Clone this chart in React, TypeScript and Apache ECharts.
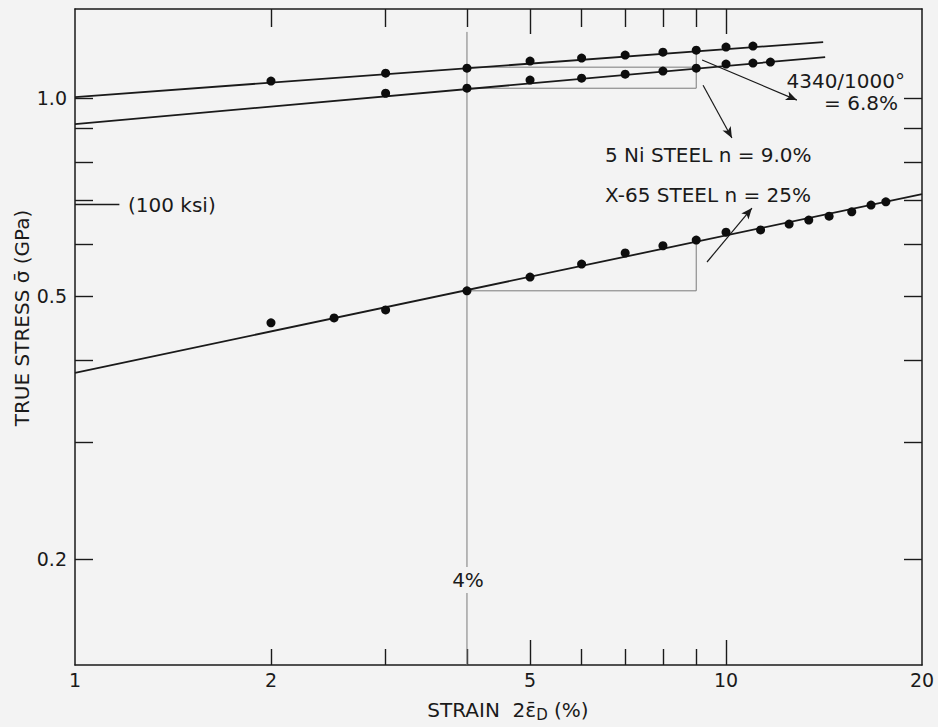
import React, { useEffect, useRef } from 'react';
import * as echarts from 'echarts';

// ---- Axis ticks / labels ----
const xTicksMinor = [2, 3, 4, 6, 7, 8, 9];
const xTicksMajor = [5, 10];
const xLabels = [1, 2, 5, 10, 20];
const yTicks = [0.2, 0.3, 0.4, 0.5, 0.6, 0.7, 0.8, 0.9, 1.0];
const yLabels = [0.2, 0.5, 1.0];

// ---- Data: 4340/1000° steel ----
const steel4340Points = [
  [2, 1.061], [3, 1.091], [4, 1.11], [5, 1.138], [6, 1.15],
  [7, 1.162], [8, 1.174], [9, 1.182], [10, 1.195], [11, 1.199],
];
const steel4340Fit = [[1, 1.0035], [14.1, 1.216]];

// ---- Data: 5 Ni steel ----
const ni5Points = [
  [3, 1.017], [4, 1.035], [5, 1.065], [6, 1.072], [7, 1.087],
  [8, 1.099], [9, 1.11], [10, 1.126], [11, 1.13], [11.7, 1.134],
];
const ni5Fit = [[1, 0.913], [14.2, 1.154]];

// ---- Data: X-65 steel ----
const x65Points = [
  [2, 0.456], [2.5, 0.464], [3, 0.477], [4, 0.51], [5, 0.535], [6, 0.56],
  [7, 0.582], [8, 0.597], [9, 0.609], [10, 0.626], [11.3, 0.631],
  [12.5, 0.644], [13.4, 0.653], [14.4, 0.662], [15.6, 0.672],
  [16.7, 0.688], [17.6, 0.696],
];
const x65Fit = [[1, 0.383], [20, 0.715]];

// ---- Construction lines (4% to 9% strain) ----
const strainMarker = [[4, 1.26], [4, 0.138]];
const construct4340 = [[4, 1.114], [9, 1.114], [9, 1.182]];
const constructNi = [[4, 1.035], [9, 1.035], [9, 1.114]];
const constructX65 = [[4, 0.51], [9, 0.51], [9, 0.609]];
const ksiLine = [[1, 0.6895], [1.17, 0.6895]];

// ---- Arrows ----
const arrow4340 = [[9.19, 1.142], [12.85, 0.993]];
const arrowNi = [[9.22, 1.046], [10.21, 0.87]];
const arrowX65 = [[9.35, 0.564], [10.96, 0.681]];

const X_MIN = 1, X_MAX = 20, Y_MIN = 0.138, Y_MAX = 1.365;

const FONT = 'DejaVu Sans';
const INK = '#1a1a1a';
const BG = '#f3f3f3';

export default function App() {
  const ref = useRef<HTMLDivElement>(null);
  useEffect(() => {
    if (!ref.current) return;
    const chart = echarts.init(ref.current, undefined, { renderer: 'svg' });

    const baseX = (position: string, ticks: number[], len: number, showLine: boolean, labels: boolean) => ({
      type: 'log',
      logBase: 10,
      min: X_MIN,
      max: X_MAX,
      position,
      axisLine: { show: showLine, lineStyle: { color: INK, width: 1.5 } },
      axisTick: { show: true, inside: true, length: len, customValues: ticks, lineStyle: { color: INK, width: 1.4 } },
      axisLabel: labels
        ? { show: true, customValues: xLabels, color: INK, fontFamily: FONT, fontSize: 19, margin: 5, showMinLabel: true, showMaxLabel: true, formatter: (v: number) => String(Math.round(v)) }
        : { show: false },
      splitLine: { show: false },
      minorTick: { show: false },
    });
    const baseY = (position: string, labels: boolean) => ({
      type: 'log',
      logBase: 10,
      min: Y_MIN,
      max: Y_MAX,
      position,
      axisLine: { show: true, lineStyle: { color: INK, width: 1.5 } },
      axisTick: { show: true, inside: true, length: 18, customValues: yTicks, lineStyle: { color: INK, width: 1.4 } },
      axisLabel: labels
        ? { show: true, customValues: yLabels, color: INK, fontFamily: FONT, fontSize: 19, margin: 8, formatter: (v: number) => v.toFixed(1) }
        : { show: false },
      splitLine: { show: false },
    });

    const thin = { color: '#7a7a7a', width: 1 };
    const poly = (data: number[][], lineStyle: any, z = 2) => ({
      type: 'line', xAxisIndex: 0, yAxisIndex: 0, data, showSymbol: false, symbol: 'none',
      lineStyle, z, silent: true,
    });
    const dots = (data: number[][]) => ({
      type: 'scatter', xAxisIndex: 0, yAxisIndex: 0, data, symbol: 'circle', symbolSize: 9,
      itemStyle: { color: '#0d0d0d', opacity: 1 }, z: 5, silent: true,
    });

    const arrows = [arrow4340, arrowNi, arrowX65];
    const f20 = `20px "${FONT}"`;

    chart.setOption({
      animation: false,
      backgroundColor: BG,
      grid: { left: 75, top: 9, right: 16, bottom: 62, containLabel: false },
      xAxis: [
        baseX('bottom', xTicksMinor, 16, true, true),
        baseX('bottom', xTicksMajor, 25, false, false),
        baseX('top', xTicksMinor, 18, true, false),
        baseX('top', xTicksMajor, 25, false, false),
      ],
      yAxis: [baseY('left', true), baseY('right', false)],
      series: [
        {
          ...poly(strainMarker, thin, 1),
          markLine: {
            silent: true,
            symbol: ['none', 'arrow'],
            symbolSize: [7, 11],
            label: { show: false },
            lineStyle: { color: INK, width: 1.2, type: 'solid' },
            data: arrows.map((a) => [{ coord: a[0] }, { coord: a[1] }]),
          },
        },
        poly(construct4340, thin, 1),
        poly(constructNi, thin, 1),
        poly(constructX65, thin, 1),
        poly(ksiLine, { color: INK, width: 1.4 }),
        poly(steel4340Fit, { color: INK, width: 1.8 }),
        poly(ni5Fit, { color: INK, width: 1.8 }),
        poly(x65Fit, { color: INK, width: 1.8 }),
        dots(steel4340Points),
        dots(ni5Points),
        dots(x65Points),
      ],
      graphic: [
        {
          type: 'text', x: 22, y: 318, rotation: Math.PI / 2,
          style: { text: 'TRUE STRESS σ̄ (GPa)', font: f20, fill: INK, align: 'center', verticalAlign: 'middle' },
        },
        {
          type: 'text', x: 508, y: 710,
          style: {
            text: '{a|STRAIN  2ε̄}{s|D}{a| (%)}',
            align: 'center', verticalAlign: 'middle', fill: INK,
            rich: {
              a: { fontFamily: FONT, fontSize: 20, fill: INK, color: INK },
              s: { fontFamily: FONT, fontSize: 15, fill: INK, color: INK, padding: [9, 0, 0, 0] },
            },
          },
        },
        {
          type: 'text', x: 468, y: 580, z: 10,
          style: { text: '4%', font: f20, fill: INK, align: 'center', verticalAlign: 'middle', backgroundColor: BG, padding: [3, 1] },
        },
        {
          type: 'text', x: 128, y: 205,
          style: { text: '(100 ksi)', font: f20, fill: INK, align: 'left', verticalAlign: 'middle' },
        },
        {
          type: 'text', x: 905, y: 81,
          style: { text: '4340/1000°', font: f20, fill: INK, align: 'right', verticalAlign: 'middle' },
        },
        {
          type: 'text', x: 898, y: 103,
          style: { text: '= 6.8%', font: f20, fill: INK, align: 'right', verticalAlign: 'middle' },
        },
        {
          type: 'text', x: 605, y: 155,
          style: { text: '5 Ni STEEL n = 9.0%', font: f20, fill: INK, align: 'left', verticalAlign: 'middle' },
        },
        {
          type: 'text', x: 605, y: 195,
          style: { text: 'X-65 STEEL n = 25%', font: f20, fill: INK, align: 'left', verticalAlign: 'middle' },
        },
      ],
    });
    return () => chart.dispose();
  }, []);
  return <div ref={ref} style={{ position: 'fixed', left: 0, top: 0, width: 938, height: 727 }} />;
}
